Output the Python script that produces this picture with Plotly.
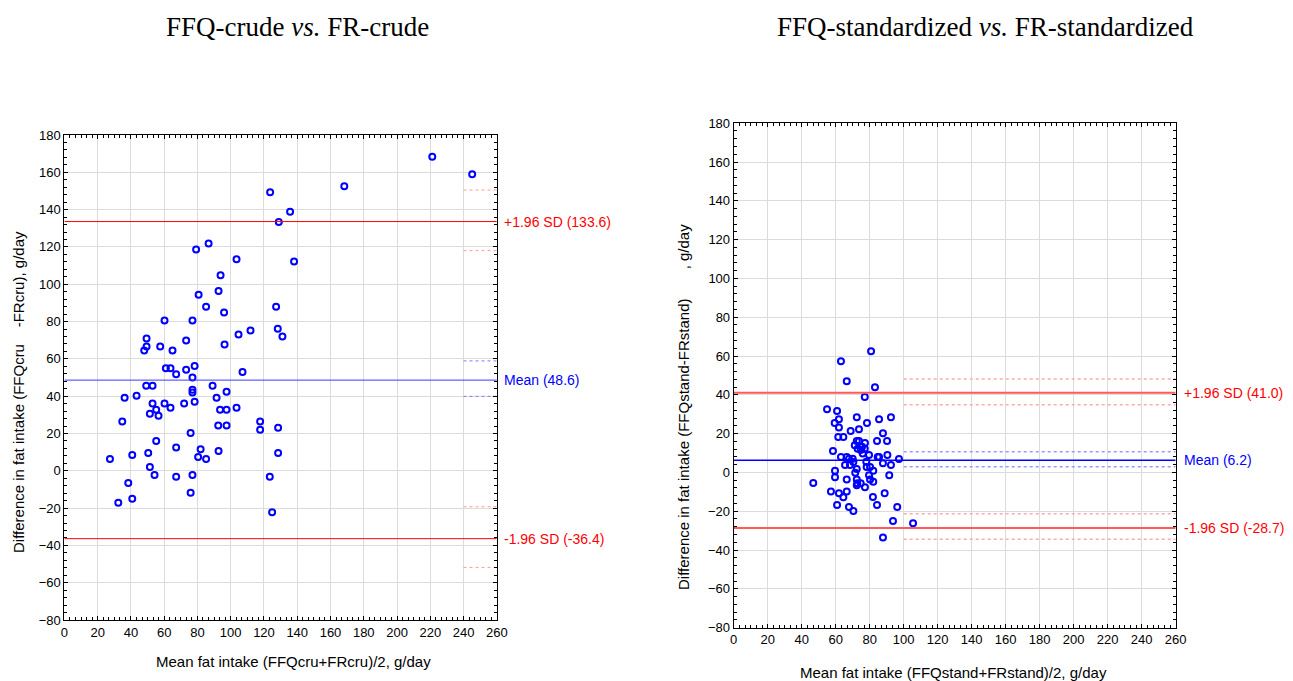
import plotly.graph_objects as go

# ---- Left panel: crude ----
crude_mean = [123.7,128.9,79.2,86.7,103.5,93.9,92.7,80.7,85.2,96.0,127.3,60.2,77.0,128.3,131.1,
              49.4,49.4,48.0,57.6,65.0,73.2,96.3,104.7,111.9,61.0,63.8,67.2,73.2,78.3,107.1,77.0,
              221.2,245.2,168.3,135.7,138.1,49.2,53.0,36.2,43.4,77.0,77.0,89.1,91.5,97.5,53.0,60.2,
              55.2,63.8,72.0,78.3,51.4,56.6,93.6,97.5,103.5,34.8,92.5,97.5,117.7,117.7,128.5,75.9,
              55.2,67.2,81.9,92.7,27.4,40.8,50.4,80.4,85.2,128.5,51.4,54.2,67.2,77.0,123.5,38.4,
              75.9,32.4,40.8,124.9]
crude_diff = [149.3,133.4,118.6,121.8,113.4,104.8,96.4,94.3,87.9,84.8,87.9,80.6,80.6,76.1,72.0,
              70.9,66.6,64.5,66.6,64.5,69.8,67.7,73.0,75.2,55.0,55.0,51.8,54.1,56.1,52.9,50.0,
              168.4,158.9,152.5,138.8,112.2,45.6,45.6,39.1,40.2,43.4,42.0,45.6,39.1,42.4,36.1,36.1,
              32.7,33.8,36.1,37.0,30.6,29.5,32.7,32.7,33.8,26.4,24.3,24.3,26.4,22.0,23.1,20.2,
              15.9,12.5,11.6,10.6,6.3,8.4,9.5,7.4,6.3,9.5,2.0,-2.3,-3.2,-2.3,-3.2,-6.6,
              -11.8,-17.1,-15.0,-22.3]
crude_stats = {"mean": 48.6, "upper": 133.6, "lower": -36.4}
crude_ci = {"mean": [39.9, 58.9], "upper": [118.0, 150.5], "lower": [-51.8, -19.3]}
crude_ci_x = [240, 260]

# ---- Right panel: standardized ----
std_mean = [80.8,63.1,66.5,83.1,77.1,54.9,60.8,61.9,59.4,61.9,72.4,85.5,92.5,78.4,73.7,68.8,87.8,
            61.5,64.5,84.3,90.2,72.4,73.7,77.2,71.2,72.9,75.5,77.1,74.7,75.9,58.4,63.1,66.5,67.8,
            70.0,79.6,84.7,85.5,90.4,97.2,78.0,70.4,65.5,68.4,87.8,92.5,78.2,80.2,72.4,59.6,82.1,
            71.5,91.5,59.6,66.5,79.6,80.2,82.1,72.4,72.7,74.7,72.4,77.2,46.8,57.2,61.9,66.5,64.5,
            88.8,81.9,60.8,67.8,70.4,84.3,96.2,93.7,105.5,87.8]
std_diff = [62.4,57.3,47.0,43.9,38.9,32.5,31.6,27.4,25.5,23.2,28.4,27.4,28.4,25.5,22.2,21.3,20.2,
            18.2,18.2,16.2,16.2,16.2,16.2,15.2,14.0,12.2,13.2,12.2,11.5,9.8,11.0,7.9,7.9,7.1,
            7.1,9.0,7.9,7.9,9.0,6.9,5.5,5.4,3.8,3.8,4.7,3.8,2.8,2.8,1.8,0.9,0.9,
            -0.2,-1.5,-2.5,-3.6,-1.5,-3.6,-4.8,-3.6,-5.6,-5.6,-6.6,-7.7,-5.5,-9.8,-10.8,-9.8,-12.8,
            -10.8,-12.7,-16.8,-17.8,-19.9,-16.8,-17.8,-25.1,-26.2,-33.5]
std_stats = {"mean": 6.2, "upper": 41.0, "lower": -28.7}
std_ci = {"mean": [2.9, 10.7], "upper": [34.9, 48.1], "lower": [-34.5, -21.3]}
std_ci_x = [100, 260]

x_range = [0, 260]
y_range = [-80, 180]
tick_vals = list(range(0, 261, 20))
ytick_vals = list(range(-80, 181, 20))

W, H = 1293, 681
def px_x(p): return p / W
def px_y(p): return 1 - p / H

fig = go.Figure()

def add_panel(xa, ya, xs, ys, stats, ci, ci_x, lw_loa, col_loa, lw_mean, col_mean, ci_red, ci_blue, ci_w):
    fig.add_trace(go.Scatter(x=xs, y=ys, mode="markers", xaxis=xa, yaxis=ya,
                             marker=dict(symbol="circle-open", size=6, color="#0000ff",
                                         line=dict(width=2, color="#0000ff")),
                             showlegend=False, hoverinfo="skip"))
    for key, col, w in [("upper", col_loa, lw_loa), ("lower", col_loa, lw_loa), ("mean", col_mean, lw_mean)]:
        fig.add_trace(go.Scatter(x=x_range, y=[stats[key]] * 2, mode="lines", xaxis=xa, yaxis=ya,
                                 line=dict(color=col, width=w), showlegend=False, hoverinfo="skip"))
        cc = ci_blue if key == "mean" else ci_red
        for v in ci[key]:
            fig.add_trace(go.Scatter(x=ci_x, y=[v, v], mode="lines", xaxis=xa, yaxis=ya,
                                     line=dict(color=cc, width=ci_w, dash="dot"),
                                     showlegend=False, hoverinfo="skip"))

add_panel("x", "y", crude_mean, crude_diff, crude_stats, crude_ci, crude_ci_x,
          1, "#ff0000", 1, "#3a3aff", "#ff9a9a", "#7a7aff", 1)
add_panel("x2", "y2", std_mean, std_diff, std_stats, std_ci, std_ci_x,
          2, "#ff5a5a", 1.5, "#0000ff", "#ffaaaa", "#9a9aff", 1.5)

tickfont = dict(family="Liberation Sans, Arial", size=13, color="black")

def xaxis_def(domain, anchor):
    return dict(domain=domain, anchor=anchor, range=x_range, tickmode="array", tickvals=tick_vals,
                showgrid=True, gridcolor="#dcdcdc", gridwidth=1, zeroline=False, automargin=False,
                showline=True, linecolor="black", linewidth=1, mirror="ticks",
                ticks="inside", ticklen=4, tickcolor="black", tickfont=tickfont,
                minor=dict(dtick=20/6, tick0=0, ticks="inside", ticklen=3, tickcolor="black", showgrid=False))

def yaxis_def(domain, anchor):
    return dict(domain=domain, anchor=anchor, range=y_range, tickmode="array", tickvals=ytick_vals,
                showgrid=True, gridcolor="#dcdcdc", gridwidth=1, zeroline=False, automargin=False,
                showline=True, linecolor="black", linewidth=1, mirror="ticks",
                ticks="inside", ticklen=4, tickcolor="black", tickfont=tickfont,
                minor=dict(dtick=4, tick0=0, ticks="inside", ticklen=3, tickcolor="black", showgrid=False))

fig.update_layout(
    width=W, height=H, margin=dict(l=0, r=0, t=0, b=0, pad=0, autoexpand=False),
    paper_bgcolor="white", plot_bgcolor="white", showlegend=False,
    xaxis=xaxis_def([px_x(64.4), px_x(496.8)], "y"),
    yaxis=yaxis_def([px_y(620), px_y(135)], "x"),
    xaxis2=xaxis_def([px_x(733.7), px_x(1175.7)], "y2"),
    yaxis2=yaxis_def([px_y(627.6), px_y(123.2)], "x2"),
)

ann = []
title_font = dict(family="Liberation Serif, Times New Roman", size=27, color="black")
ann.append(dict(text="FFQ-crude <i>vs.</i> FR-crude", x=px_x(297), y=px_y(27), xref="paper", yref="paper",
                showarrow=False, font=title_font, xanchor="center", yanchor="middle"))
ann.append(dict(text="FFQ-standardized <i>vs.</i> FR-standardized", x=px_x(985), y=px_y(27), xref="paper",
                yref="paper", showarrow=False, font=title_font, xanchor="center", yanchor="middle"))

lab_font = dict(family="Liberation Sans, Arial", size=15, color="black")
ann.append(dict(text="Mean fat intake (FFQcru+FRcru)/2, g/day", x=px_x(293), y=px_y(661), xref="paper",
                yref="paper", showarrow=False, font=lab_font, xanchor="center", yanchor="middle"))
ann.append(dict(text="Mean fat intake (FFQstand+FRstand)/2, g/day", x=px_x(953), y=px_y(672), xref="paper",
                yref="paper", showarrow=False, font=lab_font, xanchor="center", yanchor="middle"))
sp = "\u00a0"
ann.append(dict(text="Difference in fat intake (FFQcru" + sp * 4 + "-FRcru), g/day", x=px_x(18), y=px_y(392),
                xref="paper", yref="paper", showarrow=False, font=lab_font, textangle=-90,
                xanchor="center", yanchor="middle"))
ann.append(dict(text="Difference in fat intake (FFQstand-FRstand)" + sp * 7 + ", g/day", x=px_x(683),
                y=px_y(407), xref="paper", yref="paper", showarrow=False, font=lab_font, textangle=-90,
                xanchor="center", yanchor="middle"))

side_font = 14
for xa, ya, stats, xpix in [("x", "y", crude_stats, 502), ("x2", "y2", std_stats, 1182)]:
    for key, label, col in [("upper", "+1.96 SD ({:.1f})", "#ff0000"), ("mean", "Mean ({:.1f})", "#0000ff"),
                            ("lower", "-1.96 SD ({:.1f})", "#ff0000")]:
        ann.append(dict(text=label.format(stats[key]), x=px_x(xpix), xref="paper", y=stats[key],
                        yref=ya, showarrow=False, xanchor="left", yanchor="middle",
                        font=dict(family="Liberation Sans, Arial", size=side_font, color=col)))

fig.update_layout(annotations=ann)
fig.write_html("out.html")
